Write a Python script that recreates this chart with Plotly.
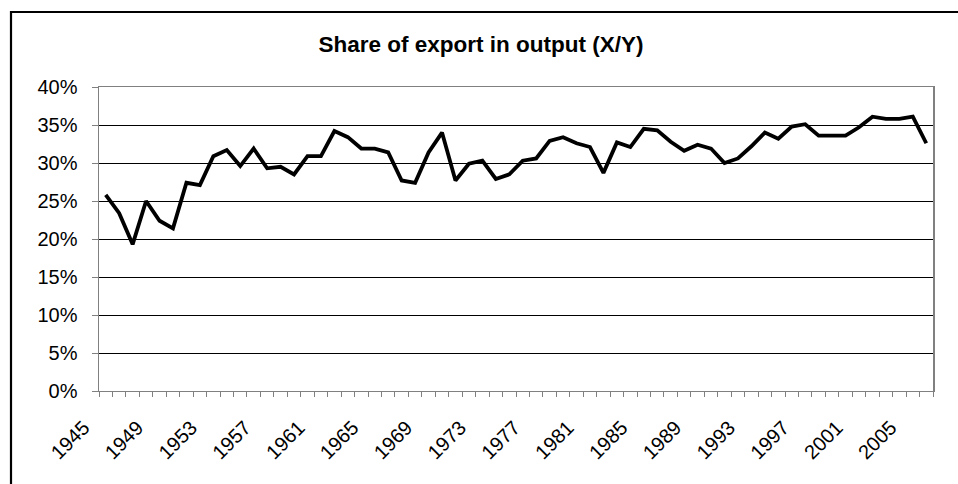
import plotly.graph_objects as go

years = list(range(1945, 2007))
share_pct = [25.8, 23.4, 19.3, 25.0, 22.4, 21.4, 27.4, 27.1, 30.9, 31.7,
             29.6, 31.9, 29.3, 29.5, 28.5, 30.9, 30.9, 34.2, 33.4, 31.9,
             31.9, 31.4, 27.7, 27.4, 31.4, 34.0, 27.7, 29.9, 30.3, 27.9,
             28.5, 30.3, 30.6, 32.9, 33.4, 32.6, 32.1, 28.7, 32.7, 32.1,
             34.5, 34.3, 32.8, 31.6, 32.4, 31.9, 30.0, 30.6, 32.2, 34.0,
             33.2, 34.8, 35.1, 33.6, 33.6, 33.6, 34.7, 36.1, 35.8, 35.8,
             36.1, 32.6]
label_years = list(range(1945, 2007, 4))
y_ticks = [0, 5, 10, 15, 20, 25, 30, 35, 40]
title_text = "Share of export in output (X/Y)"

W, H = 958, 484
L, R, T, B = 99, 25, 87, 93
pw, ph = W - L - R, H - T - B

fig = go.Figure()
fig.add_trace(go.Scatter(
    x=years, y=share_pct, mode="lines",
    line=dict(color="black", width=3.8),
    hoverinfo="skip", showlegend=False,
))

font_family = "Liberation Sans, Arial, sans-serif"

fig.update_layout(
    width=W, height=H,
    margin=dict(l=L, r=R, t=T, b=B),
    paper_bgcolor="white", plot_bgcolor="white",
    title=dict(text="<b>" + title_text + "</b>", x=0.502, xanchor="center",
               y=1 - 44.5 / H, yanchor="middle",
               font=dict(family=font_family, size=22.5, color="black")),
    font=dict(family=font_family, color="black"),
    xaxis=dict(
        range=[years[0] - 0.5, years[-1] + 0.5],
        tickmode="array", tickvals=label_years,
        ticktext=[str(v) for v in label_years],
        tickangle=-45, ticks="", showgrid=False, zeroline=False,
        showline=True, linecolor="#808080", linewidth=1, mirror=True,
        tickfont=dict(family=font_family, size=20, color="black"),
        ticklabelshift=-22, ticklabelstandoff=16,
        minor=dict(tick0=years[0] - 0.5, dtick=1, ticks="outside",
                   ticklen=5, tickcolor="#808080", tickwidth=1,
                   showgrid=False),
    ),
    yaxis=dict(
        range=[0, 40], tickmode="array", tickvals=y_ticks,
        ticktext=[f"{v}%" for v in y_ticks],
        showgrid=True, gridcolor="black", gridwidth=1, zeroline=False,
        showline=True, linecolor="#808080", linewidth=1.5, mirror=True,
        ticks="outside", ticklen=6, tickcolor="#808080", tickwidth=1,
        tickfont=dict(family=font_family, size=20, color="black"),
        ticklabelstandoff=10,
    ),
)

# outer chart border (extends past the right/bottom edges of the image)
x0 = (11 - L) / pw
y1 = 1 + (T - 12) / ph
fig.add_shape(type="rect", xref="paper", yref="paper",
              x0=x0, x1=1.06, y0=-0.4, y1=y1,
              line=dict(color="black", width=2.2), fillcolor="rgba(0,0,0,0)",
              layer="above")

fig.write_html("out.html",
               config={"displayModeBar": False, "staticPlot": True},
               post_script="document.body.style.margin='0';"
                           "document.body.style.padding='0';")
